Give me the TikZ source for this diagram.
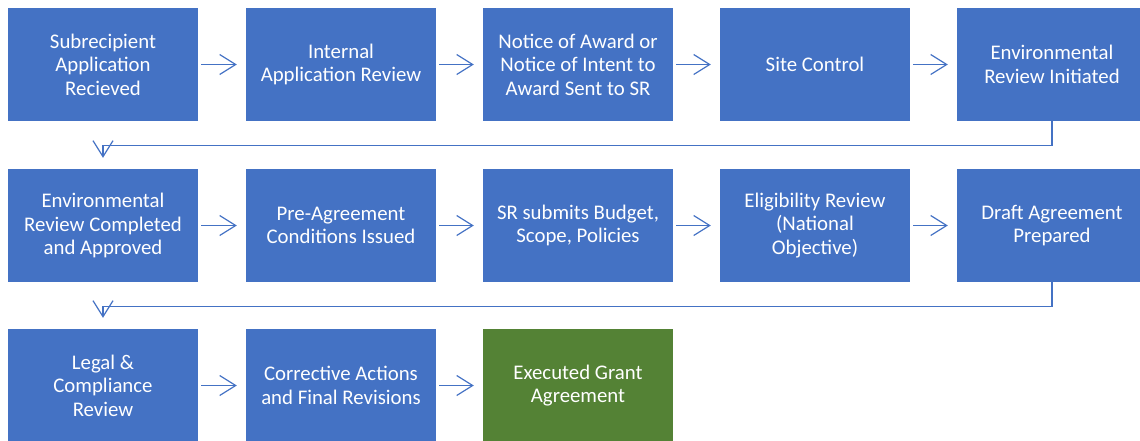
\documentclass[tikz,border=0pt]{standalone}
\usepackage{fontspec}
\setmainfont{Carlito}
\usepackage{xcolor}
\usetikzlibrary{arrows.meta}
\definecolor{stepblue}{HTML}{4472C4}
\definecolor{stepgreen}{HTML}{548235}
\tikzset{>={Straight Barb[length=16pt,width=20pt]}}

\begin{document}
\begin{tikzpicture}[x=1pt,y=-1pt,
    stepbox/.style={fill=stepblue,draw=none,text=white,minimum width=190pt,minimum height=113pt,
      inner sep=0pt,align=center,font=\fontsize{20.8}{23.5}\selectfont},
    arr/.style={draw=stepblue,line width=1.2pt,->,shorten <=3pt,shorten >=9pt}]
     \useasboundingbox (0,0) rectangle (1140,440);
     \clip (0,0) rectangle (1140,440);
     % first row
     \node[stepbox] at (103, 64.5)   (sub) {Subrecipient\\Application\\Recieved};
     \node[stepbox] at (341, 64.5)   (internal) {Internal\\Application Review};
     \node[stepbox] at (578, 64.5)   (notice) {Notice of Award or\\Notice of Intent to\\Award Sent to SR};
     \node[stepbox] at (815, 64.5)   (site) {Site Control};
     \node[stepbox] at (1052, 64.5)  (envinit) {Environmental\\Review Initiated};
     % second row
     \node[stepbox] at (103, 225.5)  (envdone) {Environmental\\Review Completed\\and Approved};
     \node[stepbox] at (341, 225.5)  (precond) {Pre-Agreement\\Conditions Issued};
     \node[stepbox] at (578, 225.5)  (budget) {SR submits Budget,\\Scope, Policies};
     \node[stepbox] at (815, 225.5)  (elig) {Eligibility Review\\(National\\Objective)};
     \node[stepbox] at (1052, 225.5) (draft) {Draft Agreement\\Prepared};
     % third row
     \node[stepbox] at (103, 385.5)  (legal) {Legal \&\\Compliance\\Review};
     \node[stepbox] at (341, 385.5)  (corrective) {Corrective Actions\\and Final Revisions};
     \node[stepbox,fill=stepgreen] at (578, 385.5) (executed) {Executed Grant\\Agreement};
     \draw[arr] (sub) -- (internal);
     \draw[arr] (internal) -- (notice);
     \draw[arr] (notice) -- (site);
     \draw[arr] (site) -- (envinit);
     \draw[arr,shorten <=0pt,shorten >=11pt] (envinit.south) -- ++(0,24) -| (envdone.north);
     \draw[arr] (envdone) -- (precond);
     \draw[arr] (precond) -- (budget);
     \draw[arr] (budget) -- (elig);
     \draw[arr] (elig) -- (draft);
     \draw[arr,shorten <=0pt,shorten >=11pt] (draft.south) -- ++(0,24) -| (legal.north);
     \draw[arr] (legal) -- (corrective);
     \draw[arr] (corrective) -- (executed);
\end{tikzpicture}
\end{document}
